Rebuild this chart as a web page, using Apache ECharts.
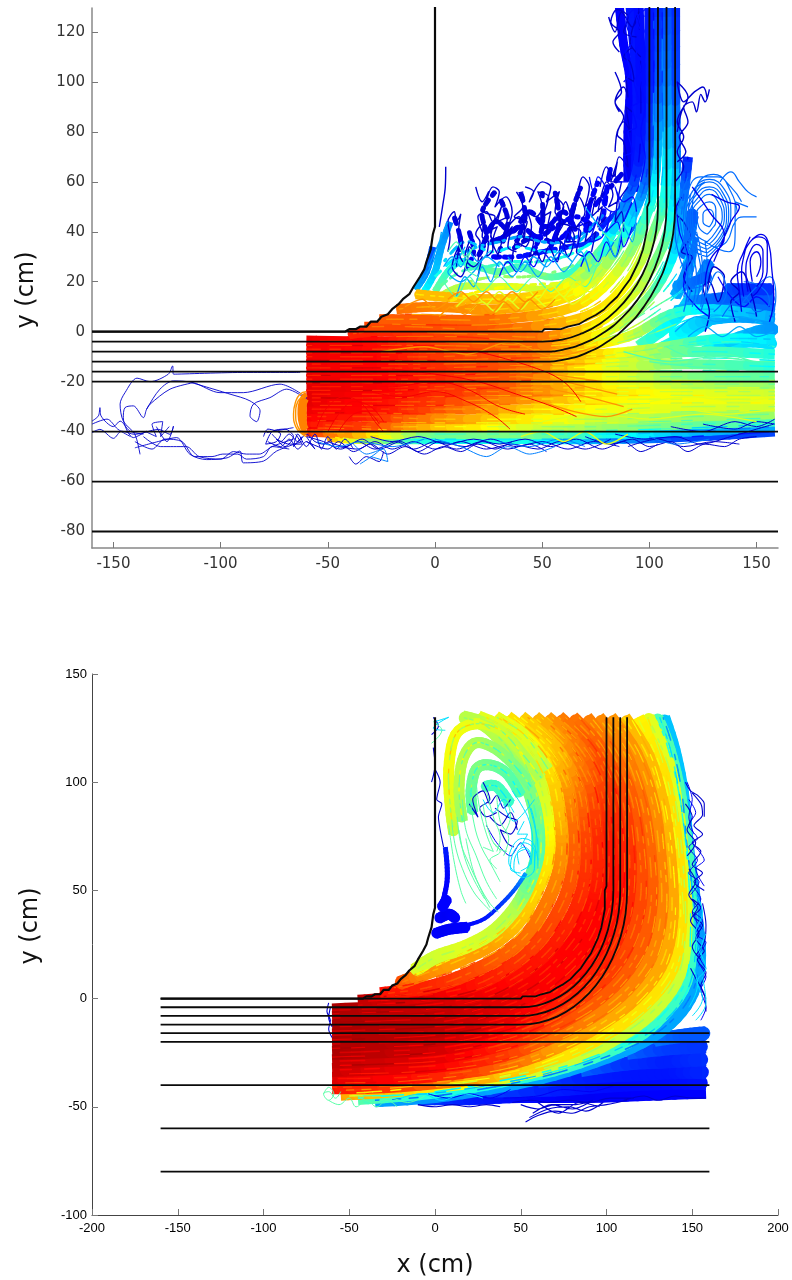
<!DOCTYPE html>
<html><head><meta charset="utf-8">
<script src="https://cdn.jsdelivr.net/npm/echarts@6/dist/echarts.min.js"></script>
<style>html,body{margin:0;padding:0;background:#fff}#c{width:792px;height:1280px}</style></head>
<body><div id="c"></div>
<script>
// ---- geometry of the channel (cm), shared by both panels
const wall=[-160,0,-42,0,-40,1,-37,1,-35,2,-32,2,-30,4,-27,4,-25,6,-22,7,-20,9,-17,11,-15,13,-12,15,-10,18,-7,22,-5,25,-4,28,-2,33,-1,39,0,42,0,130];
const curve0=[-160,0,50,0,51,1,58.7,1,62,2,67.1,3,71,5,75,6.7,79,9,82.1,11.7,85,14,88.3,17.9,91,21,93.3,25,95,28,97,32.9,98,37,99,41.3,99,50,100,52,100,130];
const curve4=[-160,-4,50,-4,59.4,-3.2,68.5,-.7,77,3.2,84.7,8.6,91.4,15.3,96.8,23,100.7,31.5,103.2,40.6,104,50,104,130];
const curve8=[-160,-8,50,-8,60.1,-7.1,69.8,-4.5,79,-.2,87.3,5.6,94.4,12.7,100.2,21,104.5,30.2,107.1,39.9,108,50,108,130];
const curve12=[-160,-12,50,-12,60.8,-11.1,71.2,-8.3,81,-3.7,89.9,2.5,97.5,10.1,103.7,19,108.3,28.8,111.1,39.2,112,50,112,130];
const straight=[[-160,-16,160,-16],[-160,-20,160,-20],[-160,-40,160,-40],[-160,-60,160,-60],[-160,-80,160,-80]];
const topXTicks=[-150,-100,-50,0,50,100,150];
const topYTicks=[-80,-60,-40,-20,0,20,40,60,80,100,120];
const botXTicks=[-200,-150,-100,-50,0,50,100,150,200];
const botYTicks=[-100,-50,0,50,100,150];

// ---- top panel: x,y,level triples
const topMain=[
[-50,-42,.8,-35,-43,.6,0,-43,.4,40,-43,.42,80,-43,.3,120,-42,.2,158.5,-40,.2],
[-60,-40,.88,-30,-41,.7,0,-41,.5,40,-41,.52,80,-41,.42,120,-40,.32,158.5,-38,.3],
[-60,-37,.9,-30,-38,.85,0,-38,.72,40,-38,.62,80,-38,.55,120,-37,.5,158.5,-36,.45],
[-60,-34,.92,-30,-34,.88,0,-35,.78,40,-35,.68,80,-35,.6,120,-34,.55,158.5,-33,.55],
[-60,-31,.93,-25,-31,.9,0,-31,.84,40,-31,.72,80,-31,.64,120,-30,.62,158.5,-30,.6],
[-60,-28,.94,-25,-28,.9,0,-28,.86,40,-27,.77,80,-27,.66,120,-27,.64,158.5,-27,.63],
[-60,-25,.94,-25,-25,.91,0,-24,.88,40,-24,.8,80,-24,.68,120,-24,.63,158.5,-24,.6],
[-60,-22,.94,-25,-22,.92,0,-22,.88,40,-21,.81,80,-21,.67,120,-21,.58,158.5,-21,.54],
[-60,-19,.93,-25,-19,.92,0,-19,.88,40,-18,.82,80,-18,.65,120,-18,.52,158.5,-18,.48],
[-60,-16,.93,-25,-16,.91,0,-16,.88,40,-15,.82,80,-14,.64,120,-13,.5,158.5,-14,.43],
[-60,-13,.93,-25,-13,.91,0,-13,.87,40,-12,.82,80,-11,.66,120,-8,.48,158.5,-9,.42],
[-60,-10,.93,-25,-10,.91,0,-10,.86,40,-9,.82,75,-9,.7,100,-7,.58,130,-3,.42,158.5,-3,.36],
[-60,-7,.93,-25,-7,.9,0,-7,.86,40,-7,.82,60,-7,.76,90,-2,.62,110,7,.46,130,9,.36,158,6,.3],
[-60,-3.5,.93,-25,-4,.9,0,-4,.85,50,-5,.8,80,0,.64,100,14,.52,112,33,.36,116,55,.26,118,70,.16],
[-40,-1,.88,-25,0,.88,20,-1,.83,50,-2,.8,75,3,.68,95,18,.6,108,38,.48,112,60,.34,112,100,.2,112,130,.17],
[-33,2,.84,-10,2,.84,30,1,.82,70,6,.7,90,20,.65,103,42,.52,108,60,.4,108,100,.26,108,130,.2],
[-26,5,.82,-5,5,.82,30,5,.8,65,10,.7,85,24,.62,98,45,.46,103,65,.36,104,100,.22,104,130,.17],
[-18,9,.8,0,10,.78,30,9,.75,62,14,.68,80,27,.58,93,48,.34,99,65,.22,100,100,.16,100,130,.15],
[-9,15,.72,4,14,.72,25,13,.72,45,14,.7,62,18,.66,75,28,.5,88,50,.28,95,68,.16,96,100,.14,95,130,.14],
];
const topFan=[
[100,-9,.46,120,0,.38,135,10,.3,140,18,.26],
[95,-6,.48,112,5,.38,122,18,.3,128,28,.25],
[125,-8,.42,145,-4,.36,158.5,-5,.36],
[130,-6,.38,150,0,.3,158.5,1,.28],
[110,-2,.42,124,4,.34,140,6,.3,158.5,5,.28],
[112,8,.34,124,10,.28,140,10,.25,158.5,9,.24],
[112,14,.32,118,25,.27,120,38,.24],
[118,12,.3,130,13,.24,142,14,.22,158,13,.22],
[112,18,.3,122,20,.24,127,22,.22],
[136,17,.22,146,17,.18,157,17,.18],
[116,30,.26,119,40,.24,120,48,.22],
];
const topTowerFill=[
[90,60,.11,90,80,.12,91,100,.13,88,115,.13,86,130,.13],
[93,56,.14,94,80,.15,94,100,.15,91,130,.15],
[78,30,.28,86,36,.26,93,44,.22],[86,44,.18,91,52,.14],
];
const topPlumeFill=[
[22,34,.11,28,44,.1,36,40,.1,44,48,.1,52,42,.11,60,48,.1,66,40,.12],
[26,30,.12,38,30,.14,50,32,.14,62,34,.15,72,36,.18,80,44,.16,88,50,.2],
[74,50,.13,82,58,.1,88,64,.1],[36,33,.1,46,38,.1,56,36,.12,64,42,.12],
[20,30,.1,24,38,.1,22,48,.09,28,56,.09],[30,32,.1,34,44,.1,30,54,.09],[38,36,.1,42,46,.1,40,56,.09],
[46,32,.12,50,42,.1,50,56,.09],[54,34,.12,58,44,.1,56,56,.1],[62,36,.12,64,48,.1,68,58,.1],
[70,38,.14,72,50,.12,76,60,.12],[78,42,.15,80,56,.12,82,66,.12],[10,28,.12,12,36,.1,9,46,.1],[14,24,.14,18,32,.12,16,40,.1],
[26,36,.12,32,38,.1,40,42,.1,48,38,.12,56,42,.1,66,46,.12,74,42,.14],
];
const topUpperMix=[
[-9,17,.33,-4,24,.27,-1,34,.2],[-5,16,.4,0,24,.34,3,34,.3,7,44,.26],
[0,16,.5,6,24,.45,12,28,.4,20,26,.45,30,24,.5,40,26,.45,52,22,.5,64,24,.45,72,32,.42],
[2,14,.6,12,18,.58,25,18,.6,38,18,.62,50,17,.6,62,20,.6,72,28,.55,80,36,.45],
];
const topUpperBroken=[
[0,22,.42,10,30,.36,20,34,.32,30,36,.3,40,38,.3,50,36,.3,60,36,.3,70,40,.28,80,48,.25],
[2,18,.5,12,24,.46,24,26,.46,36,28,.42,48,28,.44,60,30,.42,70,34,.4,80,40,.36,88,46,.3],
[4,16,.58,16,20,.56,28,22,.55,42,22,.54,56,24,.52,68,28,.5,78,34,.46,86,40,.42],
[6,12,.68,20,16,.66,34,18,.64,48,19,.62,60,20,.62,72,26,.58,80,30,.55],
[8,10,.74,24,13,.72,40,14,.7,56,15,.68,68,20,.66],
[4,28,.36,14,36,.3,26,32,.38,38,34,.36,52,32,.36,64,34,.34,76,44,.3],
];
const topMid=[
[-60,-38.5,.9,-30,-39,.8,0,-40,.6,40,-39.5,.58,80,-39.5,.5,120,-38.5,.4,158.5,-37,.38],
[-60,-35.5,.91,-30,-36,.87,0,-36.5,.75,40,-36.5,.65,80,-36.5,.58,120,-35.5,.52,158.5,-34.5,.5],
[-60,-32.5,.92,-30,-32.5,.89,0,-33,.81,40,-33,.7,80,-33,.62,120,-32,.58,158.5,-31.5,.58],
[-60,-29.5,.93,-25,-29.5,.9,0,-29.5,.85,40,-29,.74,80,-29,.65,120,-28.5,.63,158.5,-28.5,.62],
[-60,-26.5,.94,-25,-26.5,.9,0,-26,.87,40,-25.5,.78,80,-25.5,.67,120,-25.5,.63,158.5,-25.5,.62],
[-60,-23.5,.94,-25,-23.5,.91,0,-23,.88,40,-22.5,.8,80,-22.5,.67,120,-22.5,.6,158.5,-22.5,.57],
[-60,-20.5,.94,-25,-20.5,.92,0,-20.5,.88,40,-19.5,.82,80,-19.5,.66,120,-19.5,.55,158.5,-19.5,.51],
[-60,-17.5,.93,-25,-17.5,.91,0,-17.5,.88,40,-16.5,.82,80,-16,.64,120,-15.5,.51,158.5,-16,.45],
[-60,-14.5,.93,-25,-14.5,.91,0,-14.5,.87,40,-13.5,.82,80,-12.5,.65,120,-10.5,.49,158.5,-11.5,.42],
[-60,-11.5,.93,-25,-11.5,.91,0,-11.5,.86,40,-10.5,.82,75,-10,.68,110,-6,.52,140,-4,.4,158.5,-6,.4],
[-60,-8.5,.93,-25,-8.5,.9,0,-8.5,.86,40,-8,.82,70,-7,.7,100,-1,.54,125,6,.38,155,3,.33],
[-60,-5.5,.93,-25,-5.5,.9,0,-5.5,.85,45,-6,.8,78,-3,.64,100,6,.52,118,20,.34,122,35,.26],
[-30,-2,.88,10,-2,.84,50,-3.5,.8,78,2,.66,98,16,.56,110,36,.42,114,60,.3,114,90,.2],
[-20,3,.84,30,3,.81,68,8,.7,88,22,.63,100,44,.5,106,62,.38,106,100,.24,106,130,.19],
[-14,7,.8,28,7,.78,62,12,.69,82,25,.6,96,46,.4,101,66,.3,102,100,.19,102,130,.16],
[80,-2,.62,100,10,.54,116,28,.34,124,50,.24],[70,-6,.7,95,6,.54,115,16,.38,130,20,.28],
];
// ---- top panel: constant-level jagged trajectories
const topPlumeDeep=[
[6,32,7,38,6,44,9,48,10,44,12,47,11,40,13,36,11,32,13,28],
[5,66,4.8,58,3.5,50,2,42],
[20,28,21,36,19,39,23,44,22,38,25,36,24,30,27,33,26,40,29,42,27,36,30,30],
[22,40,20,46,24,48,27,44,31,50,29,44,34,46,32,38,36,42,34,34,38,32],
[24,52,27,58,30,56,28,50,33,54,36,48,34,42,39,46,42,40,40,34],
[19,58,22,52,25,56,23,48,28,46,26,38,31,36,29,30],
[36,28,38,36,42,34,45,42,43,48,47,46,50,50,48,56,53,54,50,46,54,48,52,38,56,36],
[42,58,46,56,44,52,50,60,54,58,52,52,58,56,56,48,60,44,57,38,62,34],
[38,56,41,50,37,46,43,44,41,38,46,36,44,30,48,32],
[44,26,47,32,50,28,53,34,57,28,59,36,62,30,65,38,63,42,68,40,66,32,70,30],
[58,42,61,52,64,46,67,54,70,48,66,42,72,44,70,36,75,40,73,32],
[56,54,60,50,58,44,63,42,61,36,66,36],
[66,52,69,62,72,58,70,50,75,54,73,46,78,50,76,42,80,46],
[76,48,78,56,80,60,83,55,81,50,85,52,84,44,87,48,88,40],
[77,58,80,66,83,62,85,68,82,60,87,60,85,52,90,58],
[84,62,86,70,90,66,88,76,85,79,88,84,91,80,89,90,92,88],
[86,88,84,92,88,98,90,94,89,102,93,100,91,108,88,110,92,114],
[86,112,83,116,86,120,82,124,85,129,90,126,88,120,94,118],
[81,126,84,120,87,128,92,122,95,128,91,116,96,110],
[84,104,87,96,84,92,88,86,85,80,84,72],
[113,68,117,72,114,78,118,84,116,90,120,92,122,88,124,95,126,92,128,97],
[113,80,115,88,118,94,113,100,116,92,121,96,125,98,127,93],
[112,60,116,66,113,72,116,78,113,84,116,90],
[126,0,128,8,125,18,128,20,132,12,135,22,130,26,127,16],
[140,4,138,12,142,16,138,20,143,24,148,14,150,6],
[120,16,116,22,120,30,115,32,119,38,116,44,112,48,115,54],
[10,26,11,34,9,30,8,26,12,22,15,28,16,34,19,30],
[16,36,14,30,18,26,22,30,20,22],
];
const topPlumeMid=[
[85,60,90,60,88,70,92,72,90,80,94,82,92,90,95,92,93,100,96,105,94,112,97,118,94,125,98,129],
[88,100,91,104,89,112,92,116,89,124,93,129,96,122,98,112,96,100,98,90,96,80,98,70,96,60],
[60,32,62,40,66,34,68,44,72,40,76,46,72,36,78,38,82,48,80,40,85,44,88,34,92,42],
[72,62,74,56,76,62,80,56,78,52,83,48,86,50,84,58,88,52,92,54,94,48],
[30,22,34,28,38,24,42,30,46,26,50,32,55,28,60,34],
[68,26,72,32,76,28,80,36,84,30,87,38],
[112,55,114,40,118,30,116,18,122,10,128,6],[132,22,138,14,144,10,150,14,156,10],
];
const topSwirl=[
[127,30,117,36,116,46,120,56,128,61,135,57,138,48,135,38,127,30],
[127,31.5,118,37,117,46,121,55,128,60,134,56,137,47,134,38,127,31.5],
[127,33,119,38,118,46,122,55,128,58,134,54,136,46,133,38,127,33],
[127,34.5,120,39,119,47,123,54,128,57,133,53,135,46,132,39,127,34.5],
[127,36,121,40,120,47,124,53,128,55,132,52,134,46,131,40,127,36],
[127,39,123,42,122,47,125,51,128,52,131,49,131,44,129,41,127,39],
[128,42,125,44,125,47,128,49,130,46,128,42],
[118,12,120,24,118,34,116,44,118,56,124,62,132,62,138,56,141,48],
[122,12,124,24,122,34,120,46,122,58,130,63,138,58,143,52],
[126,14,127,26,126,36,137,32,140,40,140,52,146,50],
[120,10,122,22,120,32,118,42,119,54,126,60],
[124,10,125,22,124,32,122,40],
[116,14,118,26,116,36,114,46],
[133,60,138,64,142,60,146,56,150,54],[130,34,136,36,140,44,144,46,150,46],
[116,8,118,20,114,30,112,42,114,52,118,62],
[130,8,136,16,132,24,128,18,124,8],[134,6,144,14,150,8,156,12,152,18,144,20],
[142,10,150,18,156,22,159,14,157,6],
];
const topSwirlDeep=[
[144,14,143,22,144,30,147,36,151,38,155,35,155,26,152,18,148,14],
[146,16,145,24,147,32,150,35,153,32,153,24,150,18],
[148,20,147,28,150,32,152,28,150,22],[143,8,142,16,141,24,144,32,147,38],
[156,4,158,14,157,26,156,34,152,39,148,37],
[129,55,136,52,142,50,138,44,133,34,130,28],[120,58,128,48,135,38,128,28,126,18],
];
const topCyan=[
[10,14,14,22,18,18,22,26,26,20,30,28,36,22,42,28,48,22,54,30,60,24,68,32,72,24],
[4,26,8,30,12,26,16,32,20,28,25,32],[14,34,10,28,6,24,12,20,18,24,24,30,30,26],
[70,50,75,44,80,38,84,30,88,42,92,36,94,48],
[-3,26,0,32,3,38,6,44],[-6,20,-2,26,1,32,3,40],
[118,-2,126,2,134,-2,142,2,150,-2,158,0],
[112,0,122,6,132,4,142,6,152,4],
[34,30,40,24,46,30,52,26,58,32,64,28],
];
const topGreen=[
[108,-6,120,-10,136,-9,150,-12,158.5,-12],
[100,-12,120,-14,140,-15,158.5,-16],
[88,-8,110,-12,130,-10,148,-12],
[6,32,10,36,14,30,18,34,14,26,20,22],
[4,20,10,14,16,22,22,16,30,22,38,16,46,22,54,16,62,22,70,18,76,28],
[78,40,84,36,88,44],
];
const topYellow=[
[10,10,18,15,24,11,30,16,36,12,42,18,48,13,54,19,60,14,66,20,72,16,78,22],
[16,8,22,12,28,8,34,13,40,9,46,14,52,10,58,15,64,11,70,15],
[40,-42,50,-40,60,-44,70,-40,80,-45,90,-41],
[100,-28,120,-26,140,-28,158.5,-26],[90,-32,115,-31,135,-33,158.5,-31],
[50,-36,75,-33,100,-35,125,-33,150,-36],
];
const topOrangeFine=[
[2,6,8,10,14,7,20,11,26,7,32,12,38,8,44,13,50,9,56,13],
[6,13,12,16,18,12,24,16,30,12,36,16,42,12,48,16],
[-14,10,-6,13,0,9,6,12],
[45,-22,60,-24,75,-27,88,-30],[50,-28,65,-32,80,-34,92,-31],
[-25,-8,-5,-6,15,-9,35,-4,55,-10,75,-6],
[40,-18,60,-20,75,-23,85,-25],[48,-16,62,-18,78,-20],
];
const topRedCurl=[
[-55,-38,-50,-30,-42,-26,-34,-29,-28,-36,-24,-40],
[-50,-40,-44,-32,-38,-28,-30,-30,-24,-36],
[-45,-40,-38,-33,-32,-32,-26,-37],
[-30,-24,-15,-26,0,-24,15,-28,28,-34,35,-39],
[-40,-20,-20,-22,0,-20,15,-23,30,-30,42,-33],
[-20,-15,0,-17,20,-20,38,-25,55,-30,66,-34],
[20,-8,45,-14,60,-20,68,-28],
];
const topOrangeBulge=[
[-60,-25,-62,-27,-63,-33,-62,-38,-60,-41],
[-60,-27,-61,-30,-61,-36,-60,-39],
];
const topOrangeEdge=[
[-60,-24,-63,-25,-65,-28,-66,-33,-65,-38,-62,-41,-60,-42],
[-61,-26,-64,-28,-65,-33,-64,-38,-61,-41],
];
const topLowerBlue=[
[-60,-44,-50,-47,-45,-44,-38,-48,-30,-45,-22,-49,-14,-46,-5,-49,4,-46,12,-48,20,-45,28,-47,36,-44],
[-60,-42,-52,-44,-44,-47,-36,-44,-28,-47,-18,-44,-10,-47,0,-44,10,-47,22,-44,34,-47,44,-45,52,-48],
[-30,-42,-20,-44,-8,-42,6,-45,18,-43,30,-45,42,-43,54,-46,66,-43,78,-47,88,-44,96,-48,104,-45],
[70,-42,82,-45,92,-43,100,-46,110,-44,118,-48,126,-45,135,-46,142,-43,150,-42],
[84,-41,98,-43,112,-42,124,-45,138,-42,150,-39,158,-37],
[110,-38,125,-40,140,-36,150,-38,158.5,-35],[125,-37,140,-39,150,-36,158.5,-37],
[-62,-42,-66,-46,-64,-41,-60,-46,-56,-41,-53,-47,-50,-42,-46,-47,-42,-43,-38,-47],
[-40,-50,-37,-53,-32,-50,-26,-52,-24,-48],
[-80,-42,-78,-39,-72,-41,-74,-44,-79,-45,-76,-40,-70,-39,-66,-42,-70,-46,-74,-43,-68,-45,-62,-45,-65,-41],
[-78,-44,-72,-46,-68,-43,-64,-47,-60,-44,-56,-47,-60,-42],
[-76,-41,-72,-44,-68,-41,-64,-44,-60,-41,-56,-44,-52,-45,-48,-43],
[-50,-44,-42,-46,-34,-43,-26,-47,-16,-44,-8,-48,2,-44,14,-46,26,-43,38,-46,50,-44,62,-47,74,-44,86,-46],
[-45,-46,-36,-47,-28,-44,-20,-47,-10,-44,0,-47,12,-44,24,-47,36,-45,48,-47,58,-44,70,-47,82,-43],
[90,-46,104,-43,116,-46,130,-44,142,-45],
];
const topLowerCyan=[
[-38,-45,-32,-49,-24,-47,-22,-52,-30,-50],[0,-43,12,-46,24,-50,34,-46,44,-49,56,-46],
[-35,-53,-28,-49,-24,-46],[30,-44,44,-46,58,-43,70,-46],[100,-42,112,-45,128,-43],
[-55,-44,-45,-46,-35,-44,-20,-46,-5,-43],
];
const topLeftTrail=[
[-59.8,-26.4,-72.3,-21,-89.4,-24.4,-100.3,-24.4,-112.7,-20.4,-122,-19.7,-128.3,-23,-134.5,-31,-136,-34.4,-140.7,-29.7,-144.6,-30.4,-145.4,-34.4,-140.7,-42.4,-134.5,-39.8],
[-62.9,-16.3,-87.8,-16.3,-122,-17,-122.4,-13.7,-124.4,-17,-132.9,-20,-139,-18.6,-144.6,-24.4,-146.9,-29,-145.4,-35.8,-140,-41.1,-137.6,-49.1],
[-113.5,-20.4,-95.6,-25,-86.3,-27.7,-81.6,-31.7,-83.2,-36,-86.3,-33.7,-84.7,-29,-77,-26.4,-69.2,-23,-59.8,-27],
[-112.7,-20.4,-123.6,-23,-132.9,-29,-134.5,-31],
[-160,-35.8,-157,-33.7,-156.3,-30.4,-155.8,-33.7,-150,-38,-146.9,-35.8,-142.3,-39.8,-136,-41],
[-160,-40.4,-156.3,-39.1,-150,-42.7,-146.2,-39.8,-140,-41.1,-129,-39.1,-123.6,-41.1,-122,-37.8,-125,-44,-130,-38],
[-140,-46.5,-128.3,-43.8,-120.5,-42.4,-114.3,-49.1,-106.5,-51.2,-97,-50.5,-91,-47.8,-89.4,-52.5,-80,-51.8,-73.9,-47.8,-62,-44],
[-140,-44,-132,-47,-126,-43,-118,-44,-112,-50,-104,-50,-99,-49,-92,-49,-88,-51,-80,-50,-76,-46,-68,-47],
[-136,-42,-128,-46,-122,-46,-116,-46,-110,-50,-100,-51,-94,-48,-88,-49,-82,-49,-76,-46,-66,-43],
[-66,-38.4,-78.5,-40.4],[-160,-37,-153,-35,-148,-39,-142,-42],
[-135,-40,-130,-42,-132,-37,-127,-36,-128,-42,-124,-38],
];
// ---- bottom panel: x,y,level triples
const botBlueField=[
[-10,-46,.2,20,-46,.16,50,-45,.14,90,-45,.12,125,-44,.13,158,-43,.13],
[30,-42.5,.2,70,-42,.16,105,-40,.14,135,-39,.14,158,-39,.15],
[60,-38,.2,90,-36,.16,118,-35,.15,140,-34,.15,158,-34,.17],
[85,-33,.24,112,-30,.18,137,-29,.16,158,-28,.18],
[112,-25,.24,136,-23,.19,158,-22,.18],
[128,-19,.26,146,-17,.22,158,-16,.22],
];
const botArcs=[
[-35,-47,.3,0,-45,.28,40,-40,.3,77,-33,.3,115,-22,.3,137,-11,.3,150,3,.3,154,20,.3,151,45,.28,147,70,.3,144,95,.33,139,115,.33,133,130,.33],
[-45,-46,.48,0,-43,.42,38,-38,.42,77,-31,.45,112,-20,.45,132,-8,.45,146,8,.45,149,30,.45,148,55,.45,145,80,.47,141,100,.47,135,118,.47,129,130,.47],
[-55,-44,.75,-20,-42,.7,38,-36.5,.62,77,-29,.6,108,-17,.6,128,-5,.6,142,11,.6,146,32,.62,145,58,.62,142,82,.62,137,105,.62,130,120,.62,124,130,.62],
[-60,-41,.9,-20,-40,.85,38,-35,.72,75,-26,.68,104,-14,.68,124,-1,.68,138,14,.68,143,35,.68,142,60,.68,138,85,.68,131,108,.68,118,130,.66],
[-60,-37,.95,-10,-36,.9,38,-31,.82,72,-22,.75,100,-10,.74,120,3,.74,133,18,.74,138,38,.74,137,62,.74,133,88,.72,124,112,.72,110,130,.72],
[-60,-33,.97,0,-31,.92,40,-26,.86,70,-17,.8,96,-6,.78,115,7,.78,127,22,.78,132,42,.78,131,65,.78,127,90,.77,117,113,.76,102,130,.76],
[-60,-29,.98,0,-27,.94,40,-21,.88,68,-13,.84,92,-2,.82,110,11,.82,121,26,.82,126,45,.82,125,68,.81,120,92,.8,110,114,.78,95,130,.77],
[-60,-25,1,0,-23,.96,40,-17,.9,66,-9,.86,88,2,.85,105,15,.85,115,30,.84,120,48,.84,119,70,.83,114,94,.82,103,114,.8,88,130,.78],
[-60,-21,1,0,-19,.97,40,-13,.92,64,-5,.89,84,6,.88,100,19,.88,109,34,.87,113,50,.87,113,72,.86,108,96,.84,96,116,.82,80,130,.79],
[-60,-17,1,0,-15,.98,40,-9,.94,62,-1,.91,80,10,.9,95,23,.9,104,38,.9,107,52,.9,107,74,.88,102,98,.86,90,116,.83,72,130,.78],
[-60,-13,1,0,-11,.98,35,-5,.95,58,3,.92,76,14,.91,90,27,.91,98,42,.91,101,56,.9,101,76,.89,96,98,.85,84,116,.8,65,130,.75],
[-60,-9,1,0,-7,.98,30,-2,.95,54,7,.92,71,18,.91,84,31,.91,92,46,.9,95,60,.88,94,78,.87,90,98,.83,77,116,.77,58,130,.72],
[-60,-5.5,1,-5,-3,.97,26,2,.93,49,11,.9,66,22,.89,78,35,.88,86,50,.87,88,64,.86,87,80,.84,83,98,.8,70,116,.72,50,130,.7],
[-45,-1.5,.98,-10,1,.95,22,6,.9,44,15,.87,60,26,.85,72,40,.84,79,54,.83,81,68,.82,80,84,.8,76,100,.76,63,116,.7,42,130,.68],
[-32,2,.9,-5,5,.88,18,11,.85,39,20,.82,54,30,.8,65,44,.79,72,58,.78,74,72,.76,72,88,.72,68,102,.7,56,118,.66,35,130,.66],
[-21,7,.85,-8,11,.78,12,17,.75,33,25,.75,48,35,.72,58,48,.7,65,62,.68,66,76,.66,64,90,.62,58,106,.6,45,122,.62,25,130,.62],
[-12,13,.62,0,19,.6,18,24,.62,34,31,.6,47,42,.58,55,54,.5,60,68,.48,59,84,.5,54,98,.52,44,114,.56,30,126,.58,16,130,.58],
];
const botMid=[
[-50,-45,.6,-5,-44,.36,39,-39,.36,77,-32,.38,113,-21,.38,135,-9.5,.38,148,5.5,.38,152,25,.38,150,50,.37,146,75,.38,142,97,.4,137,116,.4,131,130,.4],
[-58,-42.5,.85,-20,-41,.78,38,-36,.67,76,-27.5,.64,106,-15.5,.64,126,-3,.64,140,12.5,.64,145,33,.65,143,59,.65,140,83,.65,134,106,.65,124,130,.64],
[-60,-39,.92,-15,-38,.88,38,-33,.77,73,-24,.72,102,-12,.71,122,1,.71,135,16,.71,140,36,.71,139,61,.7,135,86,.7,127,110,.7,114,130,.69],
[-60,-35,.96,-5,-33.5,.91,39,-28.5,.84,71,-19.5,.78,98,-8,.76,117,5,.76,130,20,.76,135,40,.76,134,63,.75,130,89,.74,120,112,.74,106,130,.74],
[-60,-31,.97,0,-29,.93,40,-23.5,.87,69,-15,.82,94,-4,.8,112,9,.8,124,24,.8,129,43,.8,128,66,.8,123,91,.78,113,113,.77,98,130,.76],
[-60,-27,.99,0,-25,.95,40,-19,.89,67,-11,.85,90,0,.84,107,13,.84,118,28,.83,123,46,.83,122,69,.82,117,93,.81,106,114,.79,91,130,.77],
[-60,-23,1,0,-21,.96,40,-15,.91,65,-7,.88,86,4,.87,102,17,.86,112,32,.86,116,49,.86,116,71,.84,111,95,.83,99,115,.81,84,130,.78],
[-60,-19,1,0,-17,.97,40,-11,.93,63,-3,.9,82,8,.89,97,21,.89,106,36,.88,110,51,.88,110,73,.87,105,97,.85,93,116,.82,76,130,.79],
[-60,-15,1,0,-13,.98,37,-7,.94,60,1,.91,78,12,.9,92,25,.9,101,40,.9,104,54,.89,104,75,.88,99,98,.85,87,116,.81,68,130,.76],
[-60,-11,1,0,-9,.98,32,-3.5,.95,56,5,.92,73,16,.91,87,29,.91,95,44,.9,98,58,.89,97,77,.88,93,98,.84,80,116,.78,62,130,.73],
[-60,-7,1,-5,-5,.97,28,0,.94,51,9,.91,68,20,.9,81,33,.89,89,48,.88,91,62,.87,90,79,.85,86,98,.81,73,116,.74,54,130,.71],
[-45,-3,.98,-8,-1,.96,24,4,.91,46,13,.88,63,24,.87,75,38,.86,82,52,.85,84,66,.84,83,82,.82,79,99,.78,66,116,.71,46,130,.69],
[-30,1,.92,-7,3,.91,20,8.5,.87,41,17,.84,57,28,.82,68,42,.81,75,56,.8,77,70,.79,76,86,.76,72,101,.73,60,117,.68,38,130,.67],
[-24,5,.86,-7,8,.83,15,14,.8,36,22,.78,51,32,.76,61,46,.74,68,60,.73,70,74,.71,68,89,.67,63,104,.65,50,120,.64,30,130,.64],
[-12,11,.7,6,17,.68,26,25,.68,41,33,.66,52,46,.62,60,60,.58,62,74,.56,61,88,.55,56,102,.56,46,118,.6,32,128,.6],
];
const botSwirl=[
[66,106,.58,52,122,.62,36,130,.62],
[62,102,.56,50,114,.58,38,124,.6,24,127,.62,12,122,.64,8,106,.64,9,88,.62,11,76,.58],
[56,98,.5,46,108,.52,34,116,.54,23,118,.56,16,110,.58,14,96,.58,16,82,.54],
[50,94,.46,42,104,.48,32,108,.5,24,106,.52,21,96,.5,22,86,.48],
[44,90,.44,36,98,.46,29,98,.46],
];
const botPatchWide=[[0,30,.13,8,32,.12,19,33,.13],[2,37,.13,8,39,.12,12,37,.13],[4,42,.13,7,46,.13]];
const botPatchThin=[[5,46,.13,7,54,.13,7,62,.14,6,70,.16]];
const botEdge=[[19,34,.13,29,37,.15,39,44,.18,47,51,.22,53,58,.3]];
// ---- bottom panel: constant-level jagged trajectories
const botDeep=[
[5,70,3,78,2,84,4,90,1,92,3,100,0,106],
[52.8,-57,60,-54,70,-52,80,-53,90,-50,100,-49,112,-47],
[55,-55,66,-51,78,-50,88,-52,98,-48],
[50,-49,60,-51,70,-49,82,-49,92,-47],
[45,-48,56,-47,66,-48,78,-47,90,-48,102,-46,116,-46],
[110,-47,122,-45,130,-47,140,-45,150,-46,158,-46],
[57,-53,68,-49,80,-51,90,-48],[60,-48,72,-53,84,-48,96,-50],
[-62,-2,-63,-6,-61,-10,-62,-14,-60,-18],[-61,-4,-62,-9,-60,-13],
[-10,-49,0,-50,10,-49,20,-50,30,-49,38,-50],
[150,95,155,90,156,85,151,80,156,76,150,72,155,68,150,62,156,58,151,54,157,50],
[150,46,155,42,151,38,156,34,152,28,157,22,153,18,158,12,155,6,158,0],
[148,60,152,54,148,48,153,42,149,36,154,30,150,24,155,18],
[146,100,149,96,153,94,157,90,157,84],
[146,90,150,84,147,78,152,72,147,66],
[149,14,153,8,157,2,158,-6],[152,20,157,26,158,34,156,44],
[-2,122,2,126,-1,130],[-2,100,0,108,-1,116],
[35,88,42,84,48,82,44,76,38,78,42,72,46,70],
[20,90,25,84,22,92,28,96,32,90,36,94,40,88,44,92],
[32,84,38,80,44,86,48,78],[28,100,32,92,26,88,30,84,36,86],
];
const botBlue=[
[148,92,152,86,148,80,153,74,148,70,153,64,148,58,154,54,149,48],
[150,40,156,36,152,30,158,26,154,20,158,14],
[147,100,150,92,148,84,151,76],
[155,-10,158,-4,155,4,158,10,154,16],
[40,-46,60,-45,75,-42,90,-43,105,-40],
[-4,-44,8,-46,20,-44,32,-46,44,-42],
[30,80,36,72,44,66,50,72,56,64],
[150,52,155,46,150,40,156,32],[152,70,157,64,152,60,157,52],
];
const botCyan=[
[50,58,44,60,46,68,52,72,58,68,58,60,52,56,46,60,47,66,53,69,56,63,50,59],
[49,62,48,67,52,70,56,66,54,60],[47,58,43,63,45,70,51,74,57,72,60,64],
[56,62,57,72,55,82,50,90,45,96],[60,60,60,70,58,80,54,92],[58,62,59,75,56,88],
[40,90,46,82,52,86,58,92],[-20,-46,-8,-44,4,-47,16,-44,28,-46],
[150,-8,156,0,153,8,158,14,155,22,158,30],[148,-4,153,6,151,14],[152,-10,158,-2,156,10],
[0,128,8,130,-1,125,6,124],
[28,92,34,86,40,92,46,86],[52,82,48,76,54,76,50,70],
[155,20,152,30,156,40,152,48],
];
const botGreen=[
[10,80,12,70,16,60,22,50,28,44,33,40],[13,84,15,72,20,62,26,52,32,44,37,40],
[16,92,18,78,24,66,30,54,36,46],
[20,96,22,84,26,72,34,60,38,54],[24,100,26,88,30,76,34,68,28,70],
[18,74,22,60,27,50,32,42],[14,78,17,66,22,56,29,46],
[34,72,38,68,32,64,36,60],[30,96,34,84,38,74,36,68],[8,80,11,64,15,50,18,44],
[28,90,31,78,36,70,42,68],[36,94,38,82,43,74,40,66],[42,92,44,84,40,76],
[-65,-44,-62,-41,-59,-44,-62,-47,-65,-44,-62,-43,-58,-46,-55,-43],
[-62,-47,-56,-49,-50,-46,-46,-50,-40,-47,-34,-50,-28,-47,-22,-50],
[-45,-45,-36,-48,-26,-46,-16,-48,-6,-45],
[-2,118,4,124,-1,128],
];

// ---- colour scale and builders
function jet(l0){
  const l=Math.max(0,Math.min(1,l0))*.96;
  const c=(v)=>Math.round(255*Math.max(0,Math.min(1,v)));
  const r=1.5-Math.abs(4*l-3),g=1.5-Math.abs(4*l-2),b=1.5-Math.abs(4*l-1);
  return 'rgb('+c(r)+','+c(g)+','+c(b)+')';
}
function pairs(a){const o=[];for(let i=0;i<a.length;i+=2)o.push([a[i],a[i+1]]);return o;}
const hairPattern=[1,1,0,1,0,0,0,1,1,1,0,0,1,0,1,0,0,1,1,0,0,0,1];
function gradient(g,trajs,width,opt){
  opt=opt||{};
  const data=[];
  trajs.forEach((t,ti)=>{
    const m=t.length/3;
    const P=i=>{const j=Math.max(0,Math.min(m-1,i));return [t[3*j],t[3*j+1]];};
    for(let i=0;i<m-1;i++){
      data.push([...P(i-1),...P(i),...P(i+1),...P(i+2),t[3*i+2],t[3*i+5],i===0?1:0,i===m-2?1:0,ti*5+i*8]);
    }
  });
  const n=opt.shift!==undefined?(opt.steps||8):5;
  return {type:'custom',xAxisIndex:g,yAxisIndex:g,clip:true,silent:true,animation:false,progressive:0,
    encode:{x:[2,4],y:[3,5]},data,
    renderItem:(p,api)=>{
      const v=i=>api.value(i);
      const p0=api.coord([v(0),v(1)]),p1=api.coord([v(2),v(3)]),p2=api.coord([v(4),v(5)]),p3=api.coord([v(6),v(7)]);
      const at=(s,d)=>.5*((2*p1[d])+(-p0[d]+p2[d])*s+(2*p0[d]-5*p1[d]+4*p2[d]-p3[d])*s*s+(-p0[d]+3*p1[d]-3*p2[d]+p3[d])*s*s*s);
      const ch=[];
      for(let k=0;k<n;k++){
        const s=k/n,e=(k+1)/n;
        const idx=v(12)*1+k+(opt.off||0);
        if(opt.shift!==undefined&&!hairPattern[idx%hairPattern.length])continue;
        const butt=(k===0&&v(10))||(k===n-1&&v(11));
        ch.push({type:'line',shape:{x1:at(s,0),y1:at(s,1),x2:at(e,0),y2:at(e,1)},
          style:{stroke:jet(v(8)+(v(9)-v(8))*(s+e)/2+(opt.shift||0)),lineWidth:width,lineCap:butt?'butt':'round',fill:null}});
      }
      return {type:'group',children:ch};
    }};
}
function traj(g,trajs,level,width,smooth){
  const data=[];
  trajs.forEach(t=>{pairs(t).forEach(p=>data.push(p));data.push(['-','-']);});
  return {type:'line',xAxisIndex:g,yAxisIndex:g,data,symbol:'none',silent:true,animation:false,connectNulls:false,
    smooth:smooth||false,
    lineStyle:{color:level===null?'#0a0a0a':jet(level),width,join:'round'},clip:true};
}
function channel(g){
  return [traj(g,[wall],null,2.2),traj(g,[curve0],null,1.8),traj(g,[curve4,curve8,curve12],null,1.8,.5),traj(g,straight,null,1.8)];
}

const series=[
  // top panel
  gradient(0,topPlumeFill,5,{shift:0,steps:12}),gradient(0,topTowerFill,9),
  traj(0,topPlumeDeep,.08,1.4,.35),traj(0,topPlumeMid,.14,1.3,.35),traj(0,topLeftTrail,.08,.9,.3),
  traj(0,topSwirl,.24,1.2,.5),traj(0,topSwirlDeep,.11,1.3,.5),
  gradient(0,topFan,12),traj(0,topCyan,.3,1.3,.3),
  traj(0,topLowerBlue,.08,1,.3),traj(0,topLowerCyan,.26,1,.3),
  traj(0,topOrangeBulge,.78,5,.5),traj(0,topOrangeEdge,.76,1.4,.5),
  gradient(0,topUpperMix,7),gradient(0,topMain,10),
  gradient(0,topUpperBroken,3,{shift:0,steps:12}),
  gradient(0,topMid,1.4,{shift:.035}),gradient(0,topMain,1.4,{shift:-.045,off:9}),gradient(0,topMid,1.2,{shift:-.05,off:5}),
  traj(0,topGreen,.47,1.2,.3),traj(0,topYellow,.62,1.4,.3),traj(0,topOrangeFine,.76,1.4,.3),traj(0,topRedCurl,.92,1,.4),
  ...channel(0),
  // bottom panel
  gradient(1,botBlueField,14),traj(1,botBlue,.12,1,.3),
  gradient(1,botArcs,14),gradient(1,botSwirl,11),gradient(1,botPatchWide,11),gradient(1,botPatchThin,5),gradient(1,botEdge,4),
  gradient(1,botMid,1.5,{shift:.035}),gradient(1,botArcs,1.5,{shift:-.04,off:9}),gradient(1,botMid,1.2,{shift:-.045,off:5}),
  gradient(1,botSwirl,1.3,{shift:.07}),gradient(1,botSwirl,1.3,{shift:-.08,off:7}),
  traj(1,botDeep,.08,1.1,.3),traj(1,botCyan,.36,1,.4),traj(1,botGreen,.48,1,.4),
  ...channel(1),
];
function xAxis(g,min,max,ticks,col,font,size,lw,len,margin,name){
  return {type:'value',gridIndex:g,min,max,
    axisLine:{show:true,onZero:false,lineStyle:{color:col,width:lw}},
    axisTick:{show:true,inside:true,length:len,customValues:ticks,lineStyle:{color:'#777',width:1}},
    axisLabel:{show:true,customValues:ticks,color:g?'#000':'#333',fontFamily:font,fontSize:size,margin,
      showMinLabel:true,showMaxLabel:true},
    splitLine:{show:false},name,nameLocation:'middle',nameGap:39,
    nameTextStyle:{fontFamily:'DejaVu Sans',fontSize:24,color:'#111'}};
}
function yAxis(g,min,max,ticks,col,font,size,lw,len,margin){
  return {type:'value',gridIndex:g,min,max,
    axisLine:{show:true,onZero:false,lineStyle:{color:col,width:lw}},
    axisTick:{show:true,inside:true,length:len,customValues:ticks,lineStyle:{color:'#777',width:1}},
    axisLabel:{show:true,customValues:ticks,color:g?'#000':'#333',fontFamily:font,fontSize:size,margin},
    splitLine:{show:false}};
}
const chart=echarts.init(document.getElementById('c'),null,{renderer:'canvas'});
chart.setOption({animation:false,backgroundColor:'#fff',
  grid:[{left:92,top:8,width:686,height:540},{left:92,top:674,width:686,height:541}],
  xAxis:[xAxis(0,-160,160,topXTicks,'#888','DejaVu Sans',15,1.5,6,9,''),
         xAxis(1,-200,200,botXTicks,'#444','Liberation Sans',13,1,6,7,'x (cm)')],
  yAxis:[yAxis(0,-86.6,129.6,topYTicks,'#888','DejaVu Sans',15,1.5,6,7),
         yAxis(1,-100,150,botYTicks,'#444','Liberation Sans',13,1,6,5)],
  graphic:[
    {type:'text',x:27,y:290,rotation:Math.PI/2,style:{text:'y (cm)',font:'24px "DejaVu Sans"',fill:'#111',align:'center',verticalAlign:'middle'}},
    {type:'text',x:31,y:926,rotation:Math.PI/2,style:{text:'y (cm)',font:'24px "DejaVu Sans"',fill:'#111',align:'center',verticalAlign:'middle'}}
  ],
  series
});
</script></body></html>
